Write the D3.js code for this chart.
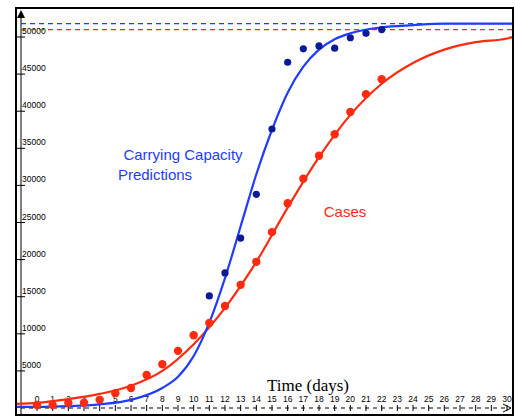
<!DOCTYPE html><html><head><script src="https://cdn.jsdelivr.net/npm/d3@7"></script>
<style>body{margin:0;background:#fff}</style></head><body><svg id="c" width="516" height="417"></svg>
<script>
const caseDays=d3.range(0,23);
const caseVals=[400,400,700,700,1100,2000,2700,4450,5900,7700,9800,11450,13750,16600,19700,23700,27600,30900,34000,36900,39900,42300,44300];
const capDays=[11,12,13,14,15,16,17,18,19,20,21,22];
const capVals=[15100,18200,22900,28800,37600,46600,48400,48800,48500,49900,50500,51000];
const fitDays=[0,2,4,6,8,10,12,14,16,18,20,22,24,26,28,30];
const caseFit=[700,1200,1900,3000,5000,8600,13500,19700,27000,33800,39500,43700,46500,48300,49300,49800];
const capFitDays=[0,2,4,6,8,9,10,11,12,13,14,15,16,17,18,19,20,22,24,26,30];
const capFit=[150,250,500,1100,2700,4200,7000,11500,17500,24500,31500,37500,42500,46000,48300,49700,50500,51300,51600,51800,51800];
const capLimit=51800, caseLimit=51000;
const xTicks=d3.range(0,31);
const yTicks=d3.range(5000,50001,5000);

const svg=d3.select("#c");
const x=d3.scaleLinear().domain([0,30]).range([37,507]);
const y=d3.scaleLinear().domain([0,50000]).range([408,37]);
const red="#ff2a10", blue="#1f3cff", dark="#0c1a9a";
svg.append("rect").attr("x",16).attr("y",8).attr("width",497).attr("height",407).attr("fill","none").attr("stroke","#000").attr("stroke-width",2);
svg.append("line").attr("x1",21).attr("x2",21).attr("y1",12).attr("y2",415).attr("stroke","#000");
svg.append("path").attr("d","M17,18 L21,10 L25,18 Z").attr("fill","#000");
yTicks.forEach(t=>{
  svg.append("line").attr("x1",17).attr("x2",25).attr("y1",y(t)).attr("y2",y(t)).attr("stroke","#000");
  svg.append("text").attr("x",22).attr("y",y(t)-3).text(t).attr("font-family","Liberation Sans, sans-serif").attr("font-size",8.5);
});
svg.append("line").attr("x1",21).attr("x2",505).attr("y1",408).attr("y2",408).attr("stroke","#000").attr("stroke-dasharray","4,4");
svg.append("path").attr("d","M503,404 L511,408 L503,412").attr("fill","none").attr("stroke","#000");
xTicks.forEach(t=>{
  svg.append("line").attr("x1",x(t)).attr("x2",x(t)).attr("y1",405).attr("y2",411).attr("stroke","#000");
  svg.append("text").attr("x",x(t)).attr("y",402).attr("text-anchor","middle").text(t).attr("font-family","Liberation Sans, sans-serif").attr("font-size",8.5);
});
svg.append("line").attr("x1",21).attr("x2",513).attr("y1",y(capLimit)).attr("y2",y(capLimit)).attr("stroke",blue).attr("stroke-dasharray","5,4").attr("stroke-width",1.3);
svg.append("line").attr("x1",21).attr("x2",513).attr("y1",y(caseLimit)).attr("y2",y(caseLimit)).attr("stroke",red).attr("stroke-dasharray","5,4").attr("stroke-width",1.3);
const line=d3.line().curve(d3.curveMonotoneX);
svg.append("clipPath").attr("id","cl").append("rect").attr("x",17).attr("y",9).attr("width",495).attr("height",405);
svg.append("path").attr("clip-path","url(#cl)").attr("d",line([[17,y(caseFit[0])+1]].concat(fitDays.map((d,i)=>[x(d),y(caseFit[i])])).concat([[513,y(50000)]]))).attr("fill","none").attr("stroke",red).attr("stroke-width",2.2);
svg.append("path").attr("clip-path","url(#cl)").attr("d",line([[17,y(capFit[0])]].concat(capFitDays.map((d,i)=>[x(d),y(capFit[i])])).concat([[513,y(capLimit)]]))).attr("fill","none").attr("stroke",blue).attr("stroke-width",2.2);
svg.selectAll(".cd").data(caseDays).enter().append("circle").attr("cx",d=>x(d)).attr("cy",(d,i)=>y(caseVals[i])).attr("r",4.2).attr("fill",red);
svg.selectAll(".bd").data(capDays).enter().append("circle").attr("cx",d=>x(d)).attr("cy",(d,i)=>y(capVals[i])).attr("r",3.6).attr("fill",dark);
const f="Liberation Sans, Helvetica, sans-serif";
svg.append("text").attr("x",183).attr("y",160).attr("text-anchor","middle").attr("fill",blue).attr("font-family",f).attr("font-size",15).text("Carrying Capacity");
svg.append("text").attr("x",155).attr("y",180).attr("text-anchor","middle").attr("fill",blue).attr("font-family",f).attr("font-size",15).text("Predictions");
svg.append("text").attr("x",345).attr("y",217).attr("text-anchor","middle").attr("fill",red).attr("font-family",f).attr("font-size",15).text("Cases");
svg.append("text").attr("x",308).attr("y",391).attr("text-anchor","middle").attr("font-family","Liberation Serif, serif").attr("font-size",17).text("Time (days)");
</script></body></html>
